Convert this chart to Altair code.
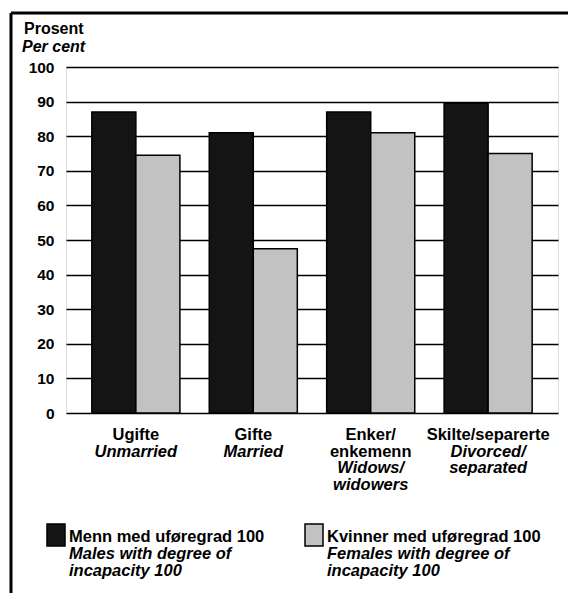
import altair as alt
import pandas as pd

# ---- data ----
keys = ["Ugifte", "Gifte", "Enker", "Skilte"]
labels_no = ["Ugifte", "Gifte", "Enker/\nenkemenn", "Skilte/separerte"]
labels_en = ["Unmarried", "Married", "Widows/\nwidowers", "Divorced/\nseparated"]
series = ["Menn med uføregrad 100", "Kvinner med uføregrad 100"]
series_en = ["Males with degree of\nincapacity 100", "Females with degree of\nincapacity 100"]
males = [87, 81, 87, 89.5]
females = [74.5, 47.5, 81, 75]
y_ticks = [0, 10, 20, 30, 40, 50, 60, 70, 80, 90, 100]
y_title_no = "Prosent"
y_title_en = "Per cent"

# ---- styling ----
FONT = "Liberation Sans"
FW = "bold"
FS = 16.5
LFS = 16.5
LH = 16.5
colors = ["#141414", "#c2c2c2"]
W, H = 492, 346

rows = []
for k, m, f in zip(keys, males, females):
    rows.append({"cat": k, "series": series[0], "value": m})
    rows.append({"cat": k, "series": series[1], "value": f})
bars_df = pd.DataFrame(rows)

lab_df = pd.DataFrame({
    "cat": keys,
    "no": labels_no,
    "en": labels_en,
    "n": [s.count("\n") + 1 for s in labels_no],
})

xscale = alt.Scale(domain=keys, paddingInner=0.25, paddingOuter=0.22)
xenc = alt.X("cat:N", sort=keys, scale=xscale, axis=None)

bars = alt.Chart(bars_df).mark_bar(stroke="black", strokeWidth=1.5).encode(
    x=xenc,
    xOffset=alt.XOffset("series:N", sort=series,
                        scale=alt.Scale(domain=series, paddingInner=0, paddingOuter=0)),
    y=alt.Y("value:Q", scale=alt.Scale(domain=[0, 100], nice=False),
            axis=alt.Axis(values=y_ticks, grid=True, gridColor="black", gridWidth=1.6,
                          domain=False, ticks=False, labelFont=FONT, labelFontSize=15.5,
                          labelFontWeight="bold", labelColor="black", labelPadding=12,
                          title=None)),
    color=alt.Color("series:N", scale=alt.Scale(domain=series, range=colors), legend=None),
)

layers = [bars]

# x labels: Norwegian (upright)
base_y = 373
layers.append(
    alt.Chart(lab_df).mark_text(font=FONT, fontSize=FS, fontWeight=FW, baseline="alphabetic",
                                align="center", lineBreak="\n", lineHeight=LH,
                                color="black").encode(
        x=xenc, y=alt.value(base_y), text="no:N")
)
# x labels: English (italic), below the Norwegian lines
for n in sorted(lab_df["n"].unique()):
    layers.append(
        alt.Chart(lab_df).transform_filter(alt.datum.n == int(n)).mark_text(
            font=FONT, fontSize=FS, fontWeight=FW, fontStyle="italic", baseline="alphabetic",
            align="center", lineBreak="\n", lineHeight=LH, color="black").encode(
            x=xenc, y=alt.value(base_y + LH * int(n)), text="en:N")
    )

# y title
ytitle_df = pd.DataFrame({"a": [y_title_no], "b": [y_title_en]})
layers.append(alt.Chart(ytitle_df).mark_text(font=FONT, fontSize=16, fontWeight=FW,
                                             align="left", baseline="alphabetic",
                                             color="black").encode(
    x=alt.value(-42), y=alt.value(-33), text="a:N"))
layers.append(alt.Chart(ytitle_df).mark_text(font=FONT, fontSize=16, fontWeight=FW,
                                             fontStyle="italic", align="left",
                                             baseline="alphabetic", color="black").encode(
    x=alt.value(-44), y=alt.value(-15), text="b:N"))

# legend
leg_x = [-19, 239]
for i in range(2):
    ldf = pd.DataFrame({"no": [series[i]], "en": [series_en[i]]})
    layers.append(alt.Chart(ldf).mark_rect(fill=colors[i], stroke="black", strokeWidth=1.5).encode(
        x=alt.value(leg_x[i]), x2=alt.value(leg_x[i] + 18),
        y=alt.value(457), y2=alt.value(479)))
    layers.append(alt.Chart(ldf).mark_text(font=FONT, fontSize=LFS, fontWeight=FW, align="left",
                                           baseline="alphabetic", color="black").encode(
        x=alt.value(leg_x[i] + 22), y=alt.value(475), text="no:N"))
    layers.append(alt.Chart(ldf).mark_text(font=FONT, fontSize=LFS, fontWeight=FW,
                                           fontStyle="italic", align="left",
                                           baseline="alphabetic", lineBreak="\n",
                                           lineHeight=17, color="black").encode(
        x=alt.value(leg_x[i] + 22), y=alt.value(492), text="en:N"))

# outer frame (left and top edges of the figure box)
frame_df = pd.DataFrame({"k": [0]})
layers.append(alt.Chart(frame_df).mark_rule(color="black", strokeWidth=3).encode(
    x=alt.value(-55), y=alt.value(-54), y2=alt.value(530)))
layers.append(alt.Chart(frame_df).mark_rule(color="black", strokeWidth=3).encode(
    x=alt.value(-55), x2=alt.value(510), y=alt.value(-54)))

chart = alt.layer(*layers).properties(
    width=W, height=H,
    autosize=alt.AutoSizeParams(type="none"),
    padding={"left": 58, "top": 59, "right": 10, "bottom": 180},
).configure_view(stroke="black", strokeWidth=3).configure(background="white")

chart.save("out.html", embed_options={"renderer": "svg", "actions": False})
